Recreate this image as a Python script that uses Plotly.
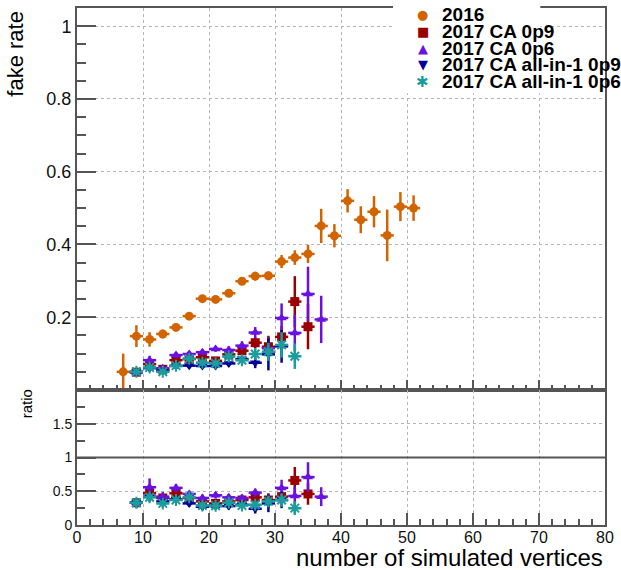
import plotly.graph_objects as go

# fake rate vs number of simulated vertices
x_2016 = [7, 9, 11, 13, 15, 17, 19, 21, 23, 25, 27, 29, 31, 33, 35, 37, 39, 41, 43, 45, 47, 49, 51]
y_2016 = [0.050, 0.148, 0.139, 0.154, 0.172, 0.203, 0.251, 0.249, 0.266, 0.299, 0.313, 0.314,
          0.353, 0.364, 0.374, 0.451, 0.424, 0.520, 0.468, 0.490, 0.425, 0.504, 0.500]
e_2016 = [0.05, 0.03, 0.02, 0.012, 0.01, 0.008, 0.008, 0.008, 0.008, 0.01, 0.012, 0.012,
          0.018, 0.02, 0.025, 0.047, 0.032, 0.032, 0.037, 0.043, 0.071, 0.04, 0.035]

x_p9 = [9, 11, 13, 15, 17, 19, 21, 23, 25, 27, 29, 31, 33, 35]
y_p9 = [0.049, 0.071, 0.057, 0.082, 0.085, 0.090, 0.080, 0.098, 0.108, 0.130, 0.119, 0.146, 0.243, 0.174]
e_p9 = [0.008, 0.01, 0.008, 0.008, 0.008, 0.008, 0.008, 0.01, 0.012, 0.015, 0.03, 0.03, 0.07, 0.062]

x_p6 = [9, 11, 13, 15, 17, 19, 21, 23, 25, 27, 29, 31, 33, 35, 37]
y_p6 = [0.048, 0.082, 0.060, 0.096, 0.099, 0.104, 0.113, 0.110, 0.122, 0.158, 0.115, 0.198, 0.157, 0.264, 0.194]
e_p6 = [0.008, 0.012, 0.008, 0.008, 0.008, 0.008, 0.008, 0.01, 0.012, 0.015, 0.03, 0.04, 0.05, 0.075, 0.065]

x_a9 = [9, 11, 13, 15, 17, 19, 21, 23, 25, 27, 29, 31]
y_a9 = [0.050, 0.060, 0.053, 0.066, 0.067, 0.066, 0.066, 0.073, 0.085, 0.075, 0.098, 0.120]
e_a9 = [0.008, 0.008, 0.007, 0.007, 0.007, 0.007, 0.007, 0.008, 0.01, 0.015, 0.044, 0.045]

x_a6 = [9, 11, 13, 15, 17, 19, 21, 23, 25, 27, 29, 31, 33]
y_a6 = [0.050, 0.062, 0.050, 0.067, 0.086, 0.075, 0.073, 0.092, 0.082, 0.099, 0.105, 0.124, 0.093]
e_a6 = [0.008, 0.008, 0.007, 0.007, 0.008, 0.008, 0.008, 0.01, 0.012, 0.015, 0.025, 0.035, 0.035]

# ratio to 2016
r_p9 = [0.33, 0.47, 0.40, 0.47, 0.40, 0.35, 0.32, 0.35, 0.37, 0.41, 0.37, 0.42, 0.66, 0.46]
re_p9 = [0.07, 0.08, 0.06, 0.06, 0.05, 0.05, 0.04, 0.05, 0.05, 0.07, 0.1, 0.09, 0.2, 0.16]
r_p6 = [0.33, 0.56, 0.42, 0.55, 0.46, 0.40, 0.44, 0.41, 0.40, 0.48, 0.35, 0.55, 0.43, 0.71, 0.42]
re_p6 = [0.07, 0.13, 0.07, 0.06, 0.05, 0.05, 0.05, 0.05, 0.05, 0.06, 0.1, 0.12, 0.14, 0.22, 0.14]
r_a9 = [0.33, 0.42, 0.35, 0.38, 0.32, 0.27, 0.28, 0.28, 0.30, 0.24, 0.32, 0.37]
re_a9 = [0.07, 0.07, 0.06, 0.05, 0.05, 0.05, 0.05, 0.05, 0.05, 0.07, 0.13, 0.12]
r_a6 = [0.33, 0.41, 0.32, 0.37, 0.41, 0.29, 0.285, 0.33, 0.29, 0.30, 0.35, 0.37, 0.25]
re_a6 = [0.07, 0.07, 0.06, 0.05, 0.05, 0.05, 0.05, 0.05, 0.05, 0.06, 0.08, 0.1, 0.1]

names = ["2016", "2017 CA 0p9", "2017 CA 0p6", "2017 CA all-in-1 0p9", "2017 CA all-in-1 0p6"]
colors = ["#d26400", "#9a0000", "#6a10e0", "#00009a", "#1c9c9c"]
symbols = ["circle", "square", "triangle-up", "triangle-down", "asterisk-open"]
glyphs = ["●", "■", "▲", "▼", "✱"]

FONT = "Liberation Sans, Arial, sans-serif"
fig = go.Figure()


def add_points(x, y, e, i, xa, ya):
    sz = 9 if i != 4 else 10
    fig.add_trace(go.Scatter(
        x=x, y=y, mode="markers", name=names[i], showlegend=False,
        xaxis=xa, yaxis=ya,
        marker=dict(symbol=symbols[i], size=sz, color=colors[i],
                    line=dict(color=colors[i], width=2 if i == 4 else 0)),
        error_y=dict(type="data", array=e, color=colors[i], thickness=2.5, width=0),
        error_x=dict(type="constant", value=1, color=colors[i], thickness=2.5, width=0),
    ))


tops = [(x_2016, y_2016, e_2016), (x_p9, y_p9, e_p9), (x_p6, y_p6, e_p6),
        (x_a9, y_a9, e_a9), (x_a6, y_a6, e_a6)]
for i, (x, y, e) in enumerate(tops):
    add_points(x, y, e, i, "x", "y")

ratios = [(x_p9, r_p9, re_p9), (x_p6, r_p6, re_p6), (x_a9, r_a9, re_a9), (x_a6, r_a6, re_a6)]
for i, (x, r, re) in enumerate(ratios):
    add_points(x, r, re, i + 1, "x2", "y2")

frame = "#555555"
grid = dict(showgrid=True, gridcolor="#b4b4b4", griddash="dot", gridwidth=1)
common = dict(showline=True, linecolor=frame, linewidth=2, mirror=True, ticks="inside",
              tickcolor=frame, zeroline=False, automargin=False, **grid)

fig.update_layout(
    width=621, height=570,
    paper_bgcolor="white", plot_bgcolor="white",
    margin=dict(l=77, r=16, t=8, b=45, autoexpand=False),
    font=dict(family=FONT, color="#111111"),
    showlegend=False,
    xaxis=dict(domain=[0, 1], anchor="y", range=[0, 80], dtick=10, tick0=0, ticklen=10,
               tickwidth=2, showticklabels=False, matches="x2",
               minor=dict(dtick=2, tick0=0, ticklen=5, tickcolor=frame, ticks="inside", showgrid=False),
               **common),
    yaxis=dict(domain=[0.2611, 1], anchor="x", range=[0, 1.05], dtick=0.2, tick0=0, ticklen=19,
               tickwidth=2, tickfont=dict(size=18), labelalias={"0": " "},
               minor=dict(dtick=0.05, tick0=0, ticklen=9, tickcolor=frame, ticks="inside", showgrid=False),
               **common),
    xaxis2=dict(domain=[0, 1], anchor="y2", range=[0, 80], dtick=10, tick0=0, ticklen=12,
                tickwidth=2, tickfont=dict(size=16), ticklabelstandoff=-3,
                minor=dict(dtick=2, tick0=0, ticklen=6, tickcolor=frame, ticks="inside", showgrid=False),
                **common),
    yaxis2=dict(domain=[0, 0.2611], anchor="x2", range=[0, 2], dtick=0.5, tick0=0, ticklen=19,
                tickwidth=2, tickfont=dict(size=14), labelalias={"2": " "},
                minor=dict(dtick=0.25, tick0=0, ticklen=8, tickcolor=frame, ticks="inside", showgrid=False),
                **common),
)

# ratio = 1 reference line
fig.add_shape(type="line", xref="x2 domain", yref="y2", x0=0, x1=1, y0=1, y1=1,
              line=dict(color=frame, width=2), layer="above")

# legend box hiding the frame behind it
fig.add_shape(type="rect", xref="paper", yref="paper", x0=0.5985, x1=0.8775, y0=0.835, y1=1.03,
              fillcolor="white", line=dict(width=0), layer="above")

row_y = [0.988, 0.955, 0.9217, 0.8907, 0.8578]
for i, name in enumerate(names):
    fig.add_annotation(xref="paper", yref="paper", x=0.655, y=row_y[i], text=glyphs[i],
                       showarrow=False, xanchor="center", yanchor="middle",
                       font=dict(size=13 if i != 4 else 15, color=colors[i],
                                 family="DejaVu Sans"))
    fig.add_annotation(xref="paper", yref="paper", x=0.6875, y=row_y[i], text="<b>%s</b>" % name,
                       showarrow=False, xanchor="left", yanchor="middle",
                       font=dict(size=19, color="black", family=FONT))

# axis titles
fig.add_annotation(xref="paper", yref="paper", x=1.0, y=-0.063, text="number of simulated vertices",
                   showarrow=False, xanchor="right", yanchor="middle",
                   font=dict(size=24, color="black", family=FONT))
fig.add_annotation(xref="paper", yref="paper", x=-0.117, y=0.912, text="fake rate", textangle=-90,
                   showarrow=False, xanchor="center", yanchor="middle",
                   font=dict(size=22, color="black", family=FONT))
fig.add_annotation(xref="paper", yref="paper", x=-0.095, y=0.235, text="ratio", textangle=-90,
                   showarrow=False, xanchor="center", yanchor="middle",
                   font=dict(size=15, color="black", family=FONT))

# the page body has a default 8px margin; drop it so the figure fills the window
fig.write_html("out.html", config={"displayModeBar": False},
               post_script="document.body.style.margin = '0';")
